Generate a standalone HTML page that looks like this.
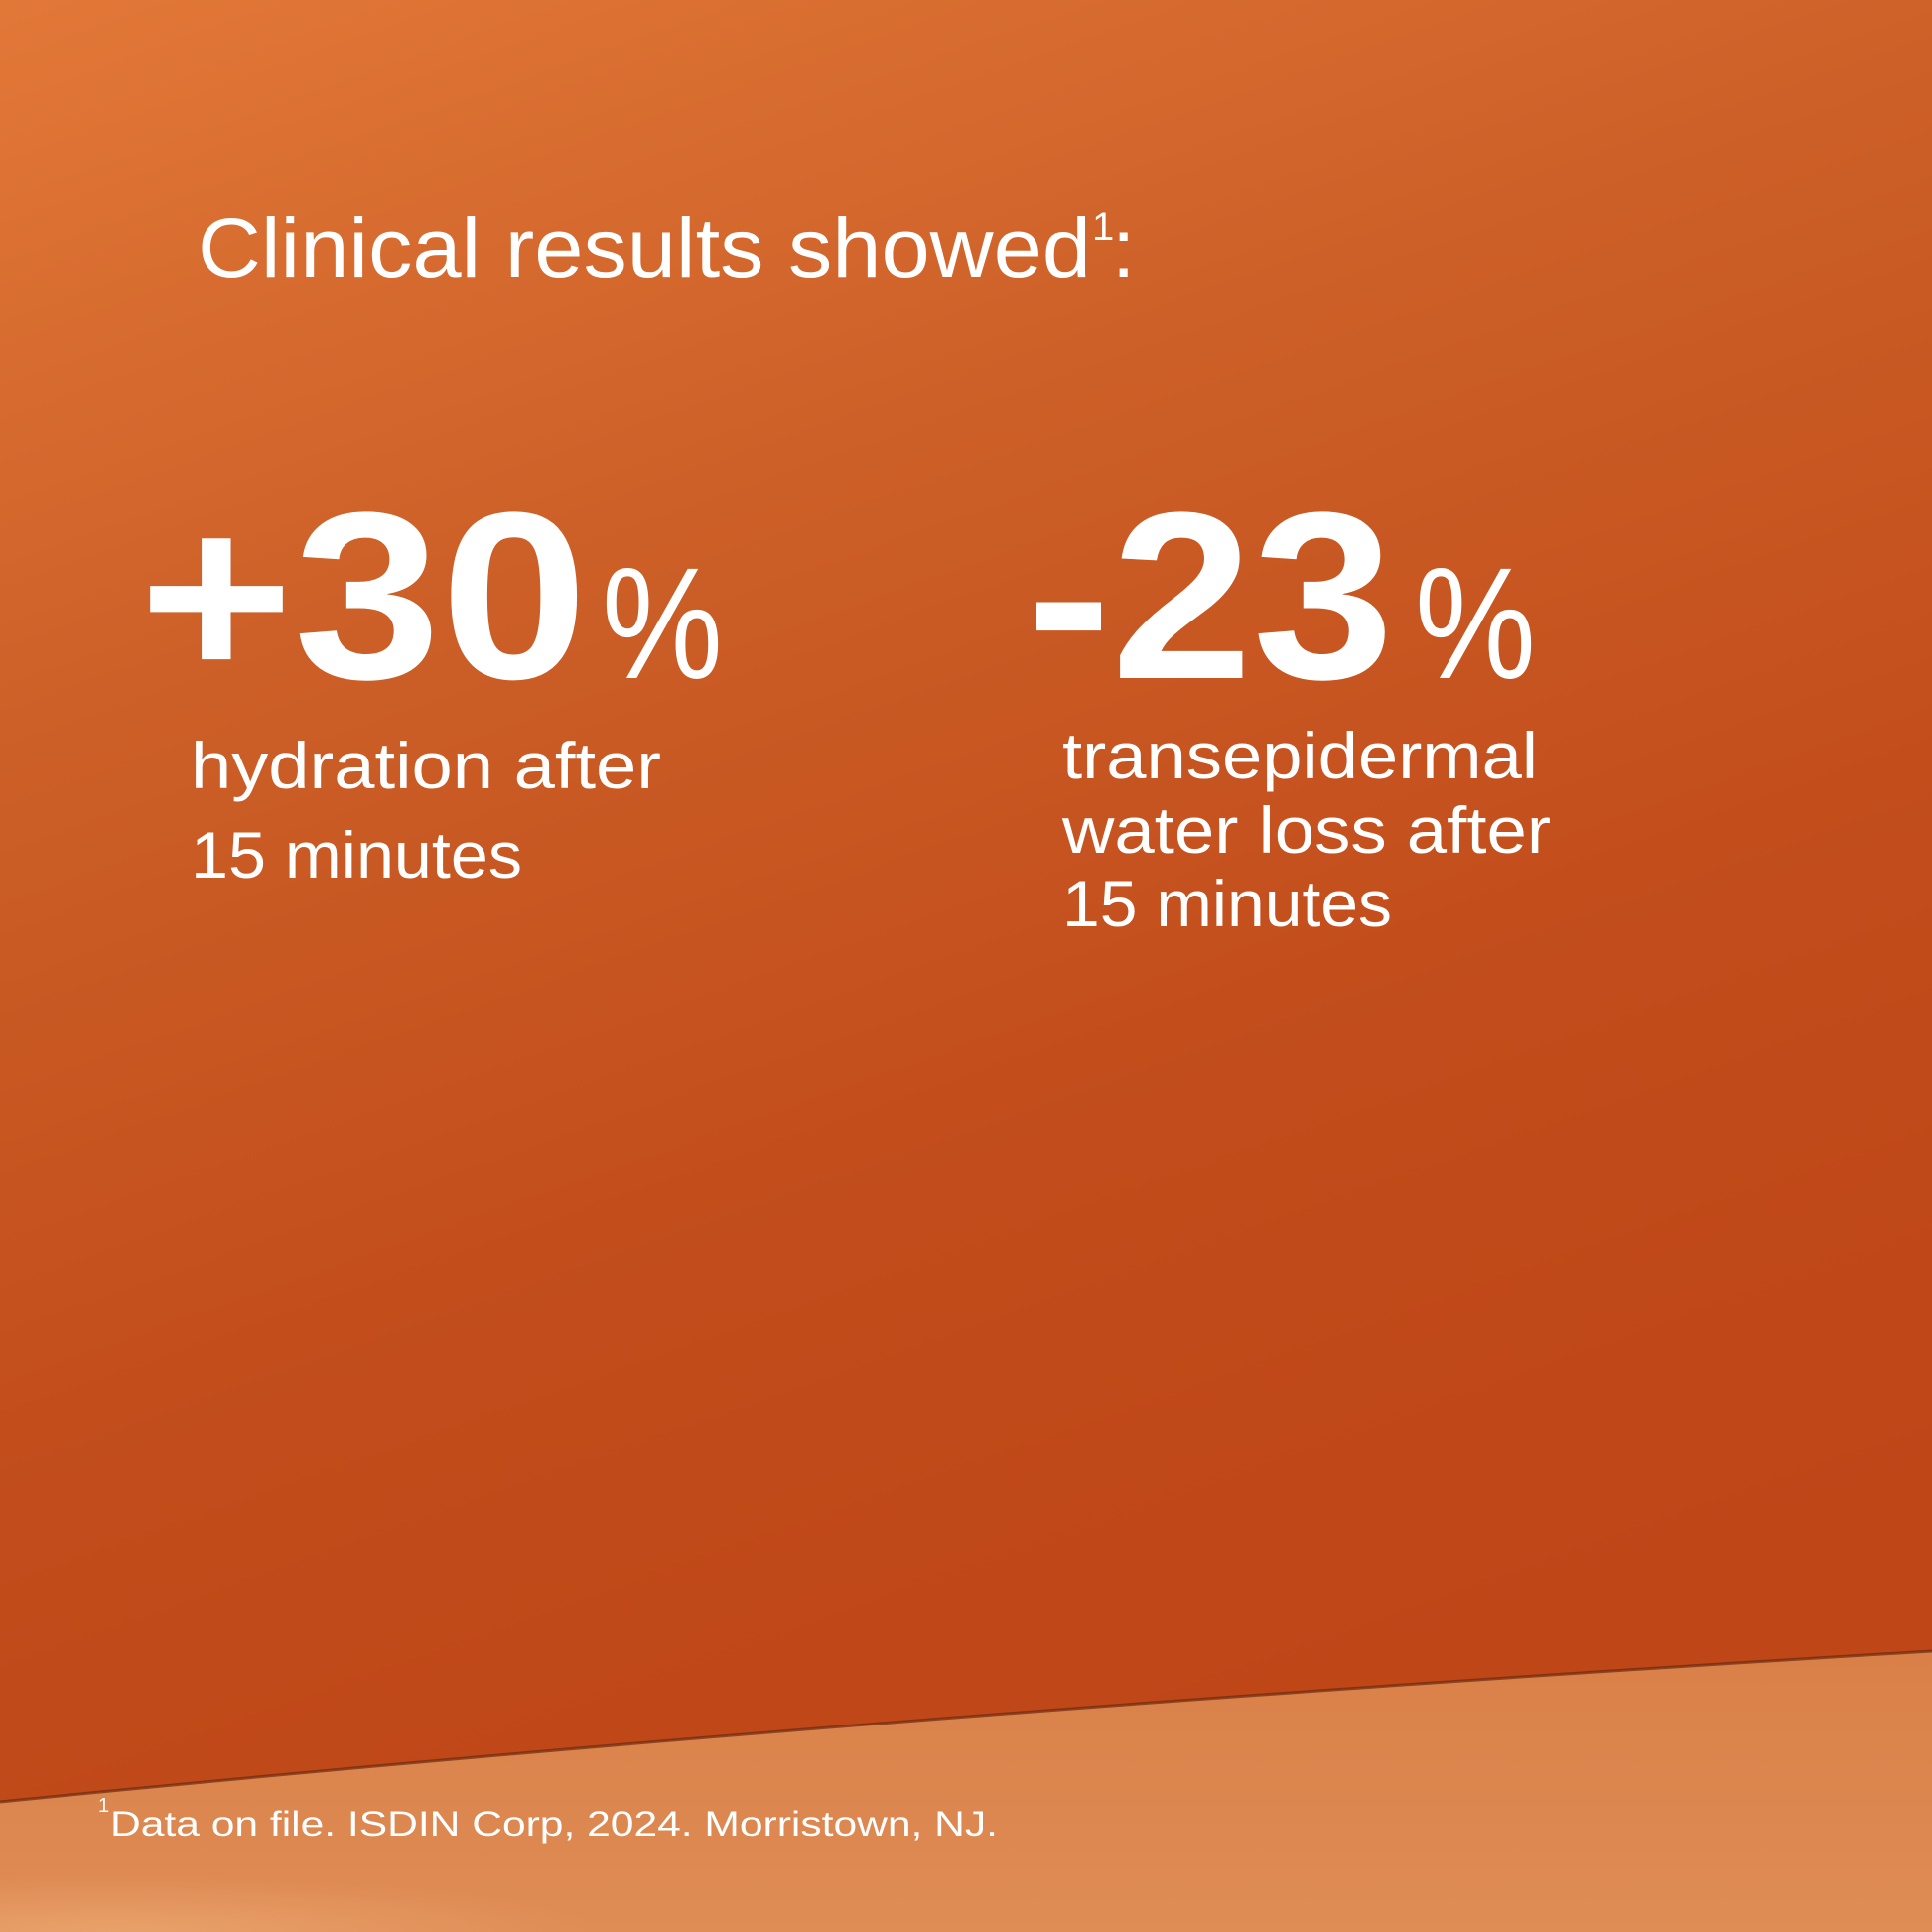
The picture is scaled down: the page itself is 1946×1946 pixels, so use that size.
<!DOCTYPE html>
<html><head><style>
html,body{margin:0;padding:0;width:1946px;height:1946px;overflow:hidden}
</style></head><body>
<svg width="1946" height="1946" viewBox="0 0 1946 1946" xmlns="http://www.w3.org/2000/svg">
<defs>
<linearGradient id="wall" x1="0" y1="0" x2="0.35" y2="1">
<stop offset="0" stop-color="#e27838"/>
<stop offset="0.35" stop-color="#cc5f27"/>
<stop offset="0.7" stop-color="#c24c1b"/>
<stop offset="1" stop-color="#bf4617"/>
</linearGradient>
<linearGradient id="floor" x1="0" y1="0" x2="0" y2="1">
<stop offset="0" stop-color="#d98048"/>
<stop offset="1" stop-color="#df8c55"/>
</linearGradient>
<radialGradient id="glow" cx="0.1" cy="1" r="0.45">
<stop offset="0" stop-color="#f0b07a" stop-opacity="0.6"/>
<stop offset="1" stop-color="#f0b07a" stop-opacity="0"/>
</radialGradient>
</defs>
<rect width="1946" height="1946" fill="url(#wall)"/>
<path d="M0 1815 Q900 1725 1946 1663 L1946 1946 L0 1946 Z" fill="url(#floor)"/>
<rect x="0" y="1820" width="1100" height="126" fill="url(#glow)"/>
<path d="M0 1815 Q900 1725 1946 1663" stroke="#6a2a10" stroke-width="3" fill="none" opacity="0.7"/>
<g fill="#fff" font-family="Liberation Sans, sans-serif">
<text x="199" y="279" font-size="84" textLength="900" lengthAdjust="spacingAndGlyphs">Clinical results showed</text>
<text x="1100" y="242" font-size="40">1</text>
<text x="1120" y="279" font-size="84">:</text>
<text x="140" y="683" font-size="240" font-weight="bold" textLength="452" lengthAdjust="spacingAndGlyphs">+30</text>
<text x="606" y="683" font-size="160" textLength="122" lengthAdjust="spacingAndGlyphs">%</text>
<text x="1034" y="683" font-size="240" font-weight="bold" textLength="370" lengthAdjust="spacingAndGlyphs">-23</text>
<text x="1425" y="683" font-size="160" textLength="122" lengthAdjust="spacingAndGlyphs">%</text>
<text x="192" y="794" font-size="66" textLength="474" lengthAdjust="spacingAndGlyphs">hydration after</text>
<text x="192" y="884" font-size="66" textLength="334" lengthAdjust="spacingAndGlyphs">15 minutes</text>
<text x="1070" y="784" font-size="66" textLength="479" lengthAdjust="spacingAndGlyphs">transepidermal</text>
<text x="1070" y="859" font-size="66" textLength="492" lengthAdjust="spacingAndGlyphs">water loss after</text>
<text x="1070" y="933" font-size="66" textLength="332" lengthAdjust="spacingAndGlyphs">15 minutes</text>
<text x="99" y="1825" font-size="20">1</text>
<text x="111" y="1849" font-size="35" textLength="894" lengthAdjust="spacingAndGlyphs">Data on file. ISDIN Corp, 2024. Morristown, NJ.</text>
</g>
</svg>
</body></html>
